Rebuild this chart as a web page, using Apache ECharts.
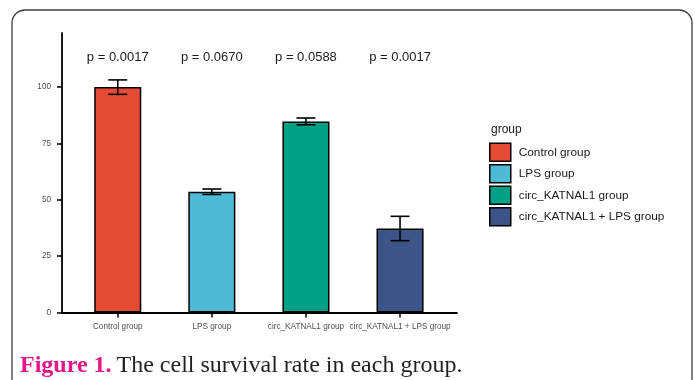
<!DOCTYPE html>
<html>
<head>
<meta charset="utf-8">
<script src="https://cdn.jsdelivr.net/npm/echarts@6/dist/echarts.min.js"></script>
<style>
html,body{margin:0;padding:0;background:#fff;}
#c{width:695px;height:380px;}
</style>
</head>
<body>
<div id="c"></div>
<script>
var categories = ['Control group', 'LPS group', 'circ_KATNAL1 group', 'circ_KATNAL1 + LPS group'];
var means = [100, 53.6, 84.8, 37.3];
var errors = [3.2, 1.2, 1.5, 5.4];
var pLabels = ['p = 0.0017', 'p = 0.0670', 'p = 0.0588', 'p = 0.0017'];
var pLabelY = 113;
var yTicks = [0, 25, 50, 75, 100];
var yMax = 124;
var colors = ['#E64B35', '#4DBBD5', '#00A087', '#3C5488'];

var FONT = '"Liberation Sans", Arial, sans-serif';
var SERIF = '"Liberation Serif", "Times New Roman", serif';
var chart = echarts.init(document.getElementById('c'), null, {renderer: 'canvas'});

var barSeries = categories.map(function (name, i) {
  return {
    name: name,
    type: 'bar',
    xAxisIndex: 1,
    yAxisIndex: 1,
    barWidth: '50%',
    barGap: '-100%',
    itemStyle: {color: colors[i], borderColor: '#000', borderWidth: 1.5},
    data: categories.map(function (c, j) { return j === i ? means[i] : '-'; }),
    z: 2
  };
});

var errData = means.map(function (m, i) { return [i, m - errors[i], m + errors[i]]; });
var pData = pLabels.map(function (t, i) { return [i, pLabelY]; });

var option = {
  backgroundColor: '#fff',
  animation: false,
  title: [
    {
      left: 15, top: 349,
      text: '{a|Figure 1.} {b|The cell survival rate in each group.}',
      textStyle: {
        fontWeight: 'normal',
        rich: {
          a: {fontFamily: SERIF, fontWeight: 'bold', fontSize: 24, color: '#e6168a'},
          b: {fontFamily: SERIF, fontWeight: 'normal', fontSize: 24, color: '#231f20'}
        }
      }
    },
    {
      left: 486, top: 119, text: 'group',
      textStyle: {fontFamily: FONT, fontSize: 12, fontWeight: 'normal', color: '#1a1a1a'}
    }
  ],
  legend: {
    orient: 'vertical',
    left: 484, top: 137.5,
    icon: 'rect',
    itemWidth: 21, itemHeight: 18, itemGap: 2,
    itemStyle: {borderColor: '#000', borderWidth: 1.5},
    textStyle: {fontFamily: FONT, fontSize: 11.8, color: '#1a1a1a', padding: [0, 0, 0, 3]},
    data: categories
  },
  graphic: [{
    type: 'rect',
    shape: {x: 12, y: 10, width: 680, height: 400, r: 13},
    style: {fill: 'none', stroke: '#3d3d3d', lineWidth: 1.3},
    silent: true
  }],
  grid: [
    {left: 62, right: 238, top: 33, bottom: 67.4},
    {left: 70.7, right: 247.9, top: 33, bottom: 67.4}
  ],
  xAxis: [
    {
      type: 'value', gridIndex: 0, min: 0, max: 1,
      axisLine: {show: true, lineStyle: {color: '#000', width: 1.8}},
      axisTick: {show: false}, axisLabel: {show: false}, splitLine: {show: false}
    },
    {
      type: 'category', gridIndex: 1, data: categories,
      axisLine: {show: false},
      axisTick: {show: true, alignWithLabel: true, length: 5, lineStyle: {color: '#000', width: 1.5}},
      axisLabel: {fontFamily: FONT, fontSize: 8.2, color: '#4d4d4d', margin: 10, interval: 0},
      splitLine: {show: false}
    }
  ],
  yAxis: [
    {
      type: 'value', gridIndex: 0, min: 0, max: yMax,
      axisLine: {show: true, lineStyle: {color: '#000', width: 1.8}},
      axisTick: {show: true, length: 5, customValues: yTicks, lineStyle: {color: '#000', width: 1.5}},
      axisLabel: {fontFamily: FONT, fontSize: 8.2, color: '#4d4d4d', margin: 11, customValues: yTicks},
      splitLine: {show: false}
    },
    {
      type: 'value', gridIndex: 1, min: 0, max: yMax, show: false, splitLine: {show: false}
    }
  ],
  series: barSeries.concat([
    {
      type: 'custom',
      name: 'err',
      xAxisIndex: 1, yAxisIndex: 1,
      data: errData,
      z: 5,
      renderItem: function (params, api) {
        var x = api.value(0);
        var lo = api.coord([x, api.value(1)]);
        var hi = api.coord([x, api.value(2)]);
        var hw = 9.5;
        var st = {stroke: '#000', lineWidth: 1.6, fill: 'none'};
        return {
          type: 'group',
          children: [
            {type: 'line', shape: {x1: lo[0], y1: lo[1], x2: hi[0], y2: hi[1]}, style: st},
            {type: 'line', shape: {x1: lo[0] - hw, y1: lo[1], x2: lo[0] + hw, y2: lo[1]}, style: st},
            {type: 'line', shape: {x1: hi[0] - hw, y1: hi[1], x2: hi[0] + hw, y2: hi[1]}, style: st}
          ]
        };
      }
    },
    {
      type: 'custom',
      name: 'p',
      xAxisIndex: 1, yAxisIndex: 1,
      data: pData,
      z: 5,
      renderItem: function (params, api) {
        var p = api.coord([api.value(0), api.value(1)]);
        return {
          type: 'text',
          x: p[0], y: p[1],
          style: {
            text: pLabels[params.dataIndex],
            fontFamily: FONT, fontSize: 13, fill: '#1a1a1a',
            align: 'center', verticalAlign: 'middle'
          }
        };
      }
    }
  ])
};
chart.setOption(option);
</script>
</body>
</html>
